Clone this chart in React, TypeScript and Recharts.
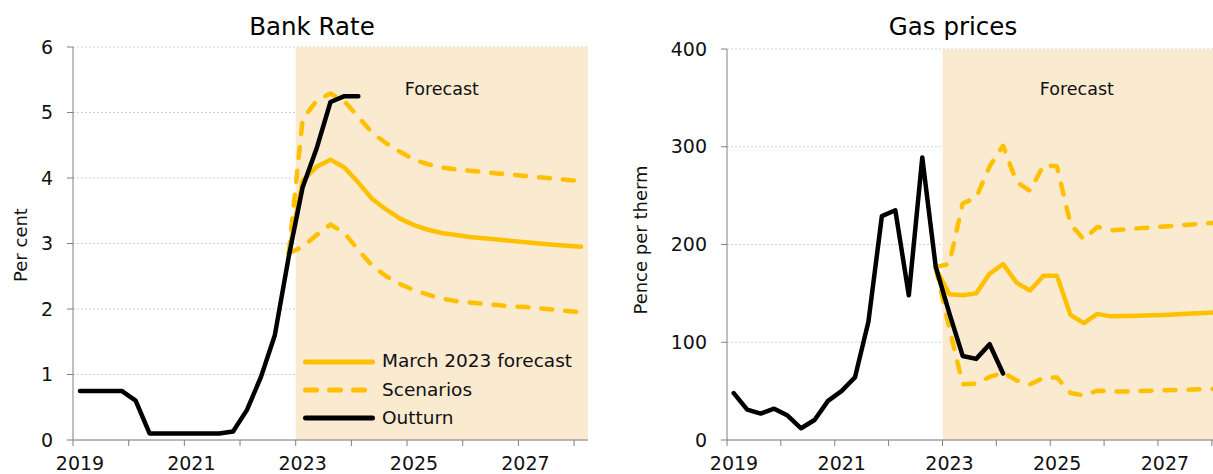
import React from "react";
import {
  LineChart,
  Line,
  XAxis,
  YAxis,
  CartesianGrid,
  ReferenceArea,
  Legend,
} from "recharts";

const FONT = "'DejaVu Sans', Lato, sans-serif";
const YELLOW = "#FFC000";
const SHADE = "#FAEAD0";
const AXIS = "#808080";

// Quarterly series; outturn runs 2019Q1-2024Q1, forecasts 2022Q4-2028Q1
const FIRST_YEAR = 2019;
const LAST_QUARTER = "2028Q1";
const OUTTURN_START = "2019Q1";
const FORECAST_START = "2022Q4";

const YEAR_TICKS = [2019, 2020, 2021, 2022, 2023, 2024, 2025, 2026, 2027, 2028];

// Bank Rate, per cent
const bankOutturn = [
  0.75, 0.75, 0.75, 0.75, 0.6, 0.1, 0.1, 0.1, 0.1, 0.1, 0.1, 0.13, 0.46, 0.96,
  1.6, 2.8, 3.86, 4.45, 5.16, 5.25, 5.25,
];
const bankForecast = [
  2.85, 3.96, 4.17, 4.28, 4.16, 3.93, 3.68, 3.52, 3.38, 3.28, 3.21, 3.16, 3.13,
  3.1, 3.08, 3.06, 3.04, 3.02, 3.0, 2.98, 2.965, 2.95,
];
const bankHigh = [
  2.85, 4.9, 5.18, 5.29, 5.17, 4.93, 4.69, 4.53, 4.4, 4.28, 4.21, 4.16, 4.13,
  4.11, 4.09, 4.07, 4.05, 4.03, 4.01, 3.99, 3.97, 3.95,
];
const bankLow = [
  2.85, 2.95, 3.13, 3.29, 3.16, 2.9, 2.66, 2.5, 2.38, 2.29, 2.22, 2.16, 2.12,
  2.1, 2.08, 2.06, 2.04, 2.03, 2.01, 1.99, 1.97, 1.95,
];

// Gas prices, pence per therm
const gasOutturn = [
  48, 31, 27, 32, 25, 12, 20.5, 40, 50, 64, 121, 229, 235, 148, 289, 177, 130,
  86, 83, 98, 68,
];
const gasForecast = [
  176, 149, 148, 150, 170, 180, 161, 153, 168, 168, 128, 119.5, 129, 126.5,
  126.8, 127.2, 127.6, 128, 128.6, 129.3, 130, 130.8,
];
const gasHigh = [
  177, 180, 242, 248, 280, 301, 264, 255, 281, 280, 221, 205, 218, 214.5, 215.5,
  216.5, 217.5, 218.5, 219.5, 220.5, 221.5, 222.5,
];
const gasLow = [
  176, 115, 57, 57.5, 64.5, 69, 61, 57, 63.5, 64, 48, 45.5, 50.5, 49.5, 49.7,
  50, 50.4, 50.8, 51.2, 51.6, 52, 52.4,
];

const LEGEND_ITEMS = [
  { label: "March 2023 forecast", color: YELLOW, dash: undefined },
  { label: "Scenarios", color: YELLOW, dash: "11 13" },
  { label: "Outturn", color: "#000", dash: undefined },
];

function quarterLabels(): string[] {
  const out: string[] = [];
  for (let y = FIRST_YEAR; ; y++) {
    for (let q = 1; q <= 4; q++) {
      const label = `${y}Q${q}`;
      out.push(label);
      if (label === LAST_QUARTER) return out;
    }
  }
}

// quarter midpoint as a fractional year
const toTime = (label: string) => {
  const [y, q] = label.split("Q").map(Number);
  return y + (q - 0.5) / 4;
};

const QUARTERS = quarterLabels();

function buildRows(
  outturn: number[],
  forecast: number[],
  high: number[],
  low: number[]
) {
  const o0 = QUARTERS.indexOf(OUTTURN_START);
  const f0 = QUARTERS.indexOf(FORECAST_START);
  return QUARTERS.map((q, i) => ({
    t: toTime(q),
    outturn: outturn[i - o0],
    forecast: forecast[i - f0],
    high: high[i - f0],
    low: low[i - f0],
  }));
}

const bankRows = buildRows(bankOutturn, bankForecast, bankHigh, bankLow);
const gasRows = buildRows(gasOutturn, gasForecast, gasHigh, gasLow);

const LegendBox = () => (
  <div style={{ fontFamily: FONT, fontSize: 18.5, color: "#111" }}>
    {LEGEND_ITEMS.map((item) => (
      <div
        key={item.label}
        style={{ display: "flex", alignItems: "center", height: 28.3 }}
      >
        <svg width={77} height={12} style={{ flex: "none" }}>
          <line
            x1={5.5}
            y1={6}
            x2={item.dash ? 68 : 72.5}
            y2={6}
            stroke={item.color}
            strokeWidth={5}
            strokeLinecap="round"
            strokeDasharray={item.dash}
          />
        </svg>
        <span style={{ marginLeft: 5, lineHeight: 1, whiteSpace: "nowrap" }}>
          {item.label}
        </span>
      </div>
    ))}
  </div>
);

interface PanelProps {
  rows: ReturnType<typeof buildRows>;
  width: number;
  top: number;
  right: number;
  yWidth: number;
  yMax: number;
  yTicks: number[];
  labelOffset: number;
  forecastDx?: number;
  legend?: boolean;
}

function Panel({
  rows,
  width,
  top,
  right,
  yWidth,
  yMax,
  yTicks,
  labelOffset,
  forecastDx = 0,
  legend,
}: PanelProps) {
  const tickFont = { fontSize: 19, fill: "#111", fontFamily: FONT };
  return (
    <LineChart
      width={width}
      height={474}
      data={rows}
      margin={{ top, right, bottom: 0, left: 0 }}
    >
      <ReferenceArea
        x1={2023}
        x2={2028.25}
        fill={SHADE}
        fillOpacity={1}
        stroke="none"
        ifOverflow="visible"
        label={{
          value: "Forecast",
          position: "insideTop",
          offset: labelOffset,
          dx: forecastDx,
          style: { fontSize: 17.5, fill: "#111", fontFamily: FONT },
        }}
      />
      <CartesianGrid
        vertical={false}
        stroke="#cfcfcf"
        strokeDasharray="2 2"
      />
      <XAxis
        dataKey="t"
        type="number"
        domain={[2019, 2028.25]}
        ticks={YEAR_TICKS}
        interval={0}
        tickFormatter={(v: number) => (v % 2 === 1 ? String(v) : "")}
        height={34}
        tickSize={6}
        tickMargin={11}
        stroke={AXIS}
        tick={{ ...tickFont, dx: 7 }}
        allowDataOverflow
      />
      <YAxis
        domain={[0, yMax]}
        ticks={yTicks}
        width={yWidth}
        tickSize={6}
        tickMargin={14}
        stroke={AXIS}
        tick={tickFont}
        allowDataOverflow
      />
      {legend && (
        // horizontal + middle keeps the legend from taking space off the plot
        <Legend
          layout="horizontal"
          verticalAlign="middle"
          align="center"
          content={() => <LegendBox />}
          wrapperStyle={{ left: 300, top: 347.5, width: 300 }}
        />
      )}
      <Line
        dataKey="forecast"
        stroke={YELLOW}
        strokeWidth={4.5}
        strokeLinecap="round"
        strokeLinejoin="round"
        dot={false}
        activeDot={false}
        isAnimationActive={false}
      />
      <Line
        dataKey="high"
        stroke={YELLOW}
        strokeWidth={4.5}
        strokeDasharray="11 13"
        strokeLinecap="round"
        strokeLinejoin="round"
        dot={false}
        activeDot={false}
        isAnimationActive={false}
      />
      <Line
        dataKey="low"
        stroke={YELLOW}
        strokeWidth={4.5}
        strokeDasharray="11 13"
        strokeLinecap="round"
        strokeLinejoin="round"
        dot={false}
        activeDot={false}
        isAnimationActive={false}
      />
      <Line
        dataKey="outturn"
        stroke="#000"
        strokeWidth={4.5}
        strokeLinecap="round"
        strokeLinejoin="round"
        dot={false}
        activeDot={false}
        isAnimationActive={false}
      />
    </LineChart>
  );
}

const titleStyle: React.CSSProperties = {
  position: "absolute",
  top: 15,
  fontSize: 24.5,
  lineHeight: 1,
  fontFamily: FONT,
  color: "#000",
  transform: "translateX(-50%)",
  whiteSpace: "nowrap",
};

const axisLabelStyle: React.CSSProperties = {
  position: "absolute",
  fontSize: 18,
  lineHeight: 1,
  fontFamily: FONT,
  color: "#111",
  whiteSpace: "nowrap",
  transform: "translate(-50%, -50%) rotate(-90deg)",
};

export default function App() {
  return (
    <div
      style={{
        position: "relative",
        width: 1213,
        height: 474,
        overflow: "hidden",
        background: "#fff",
      }}
    >
      <style>{"body{margin:0;overflow:hidden}"}</style>
      <div style={{ position: "absolute", left: 0, top: 0 }}>
        <Panel
          rows={bankRows}
          width={600}
          top={47}
          right={12}
          yWidth={73}
          yMax={6}
          yTicks={[0, 1, 2, 3, 4, 5, 6]}
          labelOffset={36}
          legend
        />
      </div>
      <div style={{ position: "absolute", left: 650, top: 0 }}>
        <Panel
          rows={gasRows}
          width={590}
          top={49}
          right={14.7}
          yWidth={77}
          yMax={400}
          yTicks={[0, 100, 200, 300, 400]}
          labelOffset={34}
          forecastDx={-7}
        />
      </div>
      <div style={{ ...titleStyle, left: 312 }}>Bank Rate</div>
      <div style={{ ...titleStyle, left: 953 }}>Gas prices</div>
      <div style={{ ...axisLabelStyle, left: 21, top: 245 }}>Per cent</div>
      <div style={{ ...axisLabelStyle, left: 641, top: 240 }}>
        Pence per therm
      </div>
    </div>
  );
}
